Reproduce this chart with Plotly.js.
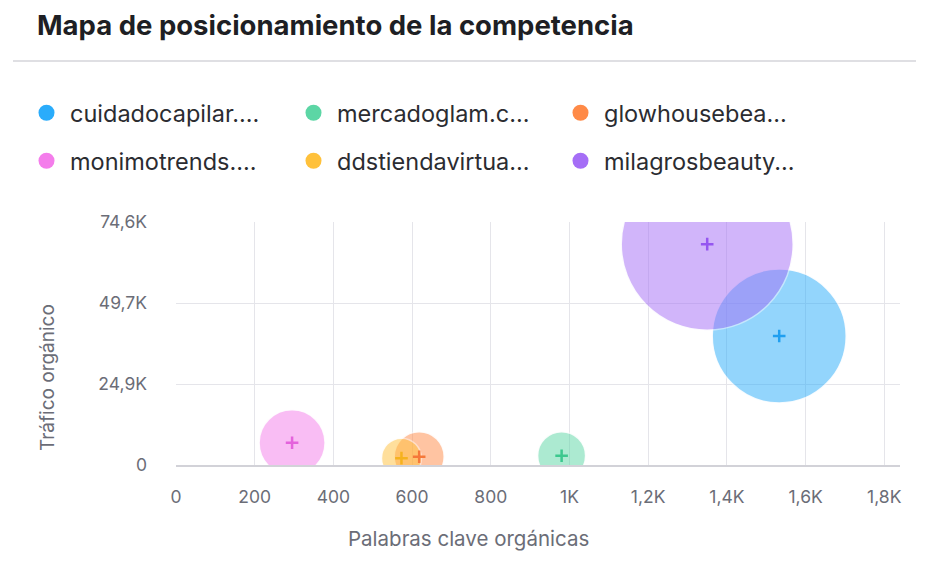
<!DOCTYPE html>
<html>
<head>
<meta charset="utf-8">
<script src="https://cdn.plot.ly/plotly-3.0.1.min.js"></script>
<style>
html,body{margin:0;padding:0;background:#fff;}
#chart{width:937px;height:576px;}
</style>
</head>
<body>
<div id="chart"></div>
<script>
// ---- data ----
const dominios = ["cuidadocapilar....", "mercadoglam.c...", "glowhousebea...", "monimotrends....", "ddstiendavirtua...", "milagrosbeauty..."];
const palabrasClave = [1533, 980, 618, 295, 573, 1350];
const trafico = [39600, 2850, 2550, 6850, 2100, 67800];
const tamanoBurbuja = [134, 48, 50, 66, 40, 172];
const colores = ["#2aacfb", "#5cd6a5", "#ff8a47", "#f47deb", "#ffc13b", "#a56ef6"];
const coloresCruz = ["#1f9ff0", "#3cc88e", "#f5783a", "#e463dc", "#f5b21e", "#9556f0"];
const xTickVals = [0, 200, 400, 600, 800, 1000, 1200, 1400, 1600, 1800];
const xTickText = ["0", "200", "400", "600", "800", "1K", "1,2K", "1,4K", "1,6K", "1,8K"];
const yTickVals = [0, 24866.67, 49733.33, 74600];
const yTickText = ["0", "24,9K", "49,7K", "74,6K"];

const FONT = "Inter, 'Noto Sans', sans-serif";

const traces = [];
// bubbles
dominios.forEach((d, i) => {
  traces.push({
    type: "scatter", mode: "markers", name: d, showlegend: false,
    x: [palabrasClave[i]], y: [trafico[i]],
    marker: {size: [tamanoBurbuja[i]], sizemode: "diameter", color: colores[i], opacity: 0.5,
             line: {color: "rgba(255,255,255,0.9)", width: 1.5}},
    hoverinfo: "skip"
  });
});
// centre crosses
dominios.forEach((d, i) => {
  traces.push({
    type: "scatter", mode: "markers", name: d + " centro", showlegend: false,
    x: [palabrasClave[i]], y: [trafico[i]],
    marker: {symbol: "cross-thin", size: 9, line: {color: coloresCruz[i], width: 2.5}},
    hoverinfo: "skip"
  });
});
// legend entries (solid dots)
dominios.forEach((d, i) => {
  traces.push({
    type: "scatter", mode: "markers", name: d, showlegend: true,
    x: [null], y: [null],
    marker: {size: 18, color: colores[i], opacity: 1},
    legend: i < 3 ? "legend" : "legend2",
    hoverinfo: "skip"
  });
});

const legendCommon = {
  orientation: "h", xref: "paper", yref: "paper", xanchor: "left", yanchor: "middle",
  x: (23 - 176) / 724, entrywidth: 215, entrywidthmode: "pixels", itemsizing: "trace",
  itemwidth: 37,
  font: {family: FONT, size: 23.5, color: "#2b2c31"}, bgcolor: "rgba(0,0,0,0)",
  traceorder: "normal", itemclick: false, itemdoubleclick: false
};

const layout = {
  width: 937, height: 576,
  margin: {l: 176, r: 37, t: 222, b: 111, autoexpand: false},
  paper_bgcolor: "#fff", plot_bgcolor: "#fff",
  showlegend: true,
  legend: Object.assign({}, legendCommon, {y: (465 - 113) / 243}),
  legend2: Object.assign({}, legendCommon, {y: (465 - 161) / 243}),
  xaxis: {
    range: [0, 1840], tickvals: xTickVals, ticktext: xTickText,
    showgrid: true, gridcolor: "#e5e5ea", gridwidth: 1, zeroline: false,
    showline: true, linecolor: "#d2d2d8", linewidth: 2,
    ticks: "", ticklabelstandoff: 15,
    tickfont: {family: FONT, size: 17.5, color: "#6b6d77"}, fixedrange: true
  },
  yaxis: {
    range: [0, 74600], tickvals: yTickVals, ticktext: yTickText,
    showgrid: true, gridcolor: "#e5e5ea", gridwidth: 1, zeroline: false,
    showline: false, ticks: "", ticklabelstandoff: 28,
    tickfont: {family: FONT, size: 17.5, color: "#6b6d77"}, fixedrange: true
  },
  shapes: [{
    type: "line", xref: "paper", yref: "paper",
    x0: (13 - 176) / 724, x1: (916 - 176) / 724,
    y0: (465 - 61) / 243, y1: (465 - 61) / 243,
    line: {color: "#d5d5da", width: 1.5}
  }],
  annotations: [
    {text: "<b>Mapa de posicionamiento de la competencia</b>", xref: "paper", yref: "paper",
     x: (35 - 176) / 724, y: (465 - 25) / 243, xanchor: "left", yanchor: "middle", showarrow: false,
     font: {family: FONT, size: 27.5, color: "#1e1f24"}},
    {text: "Palabras clave orgánicas", xref: "paper", yref: "paper",
     x: (468 - 176) / 724, y: (465 - 538) / 243, xanchor: "center", yanchor: "middle", showarrow: false,
     font: {family: FONT, size: 20.5, color: "#6b6d77"}},
    {text: "Tráfico orgánico", xref: "paper", yref: "paper", textangle: -90,
     x: (47 - 176) / 724, y: (465 - 378) / 243, xanchor: "center", yanchor: "middle", showarrow: false,
     font: {family: FONT, size: 19, color: "#6b6d77"}}
  ]
};

Plotly.newPlot("chart", traces, layout, {displayModeBar: false, staticPlot: true});
</script>
</body>
</html>
